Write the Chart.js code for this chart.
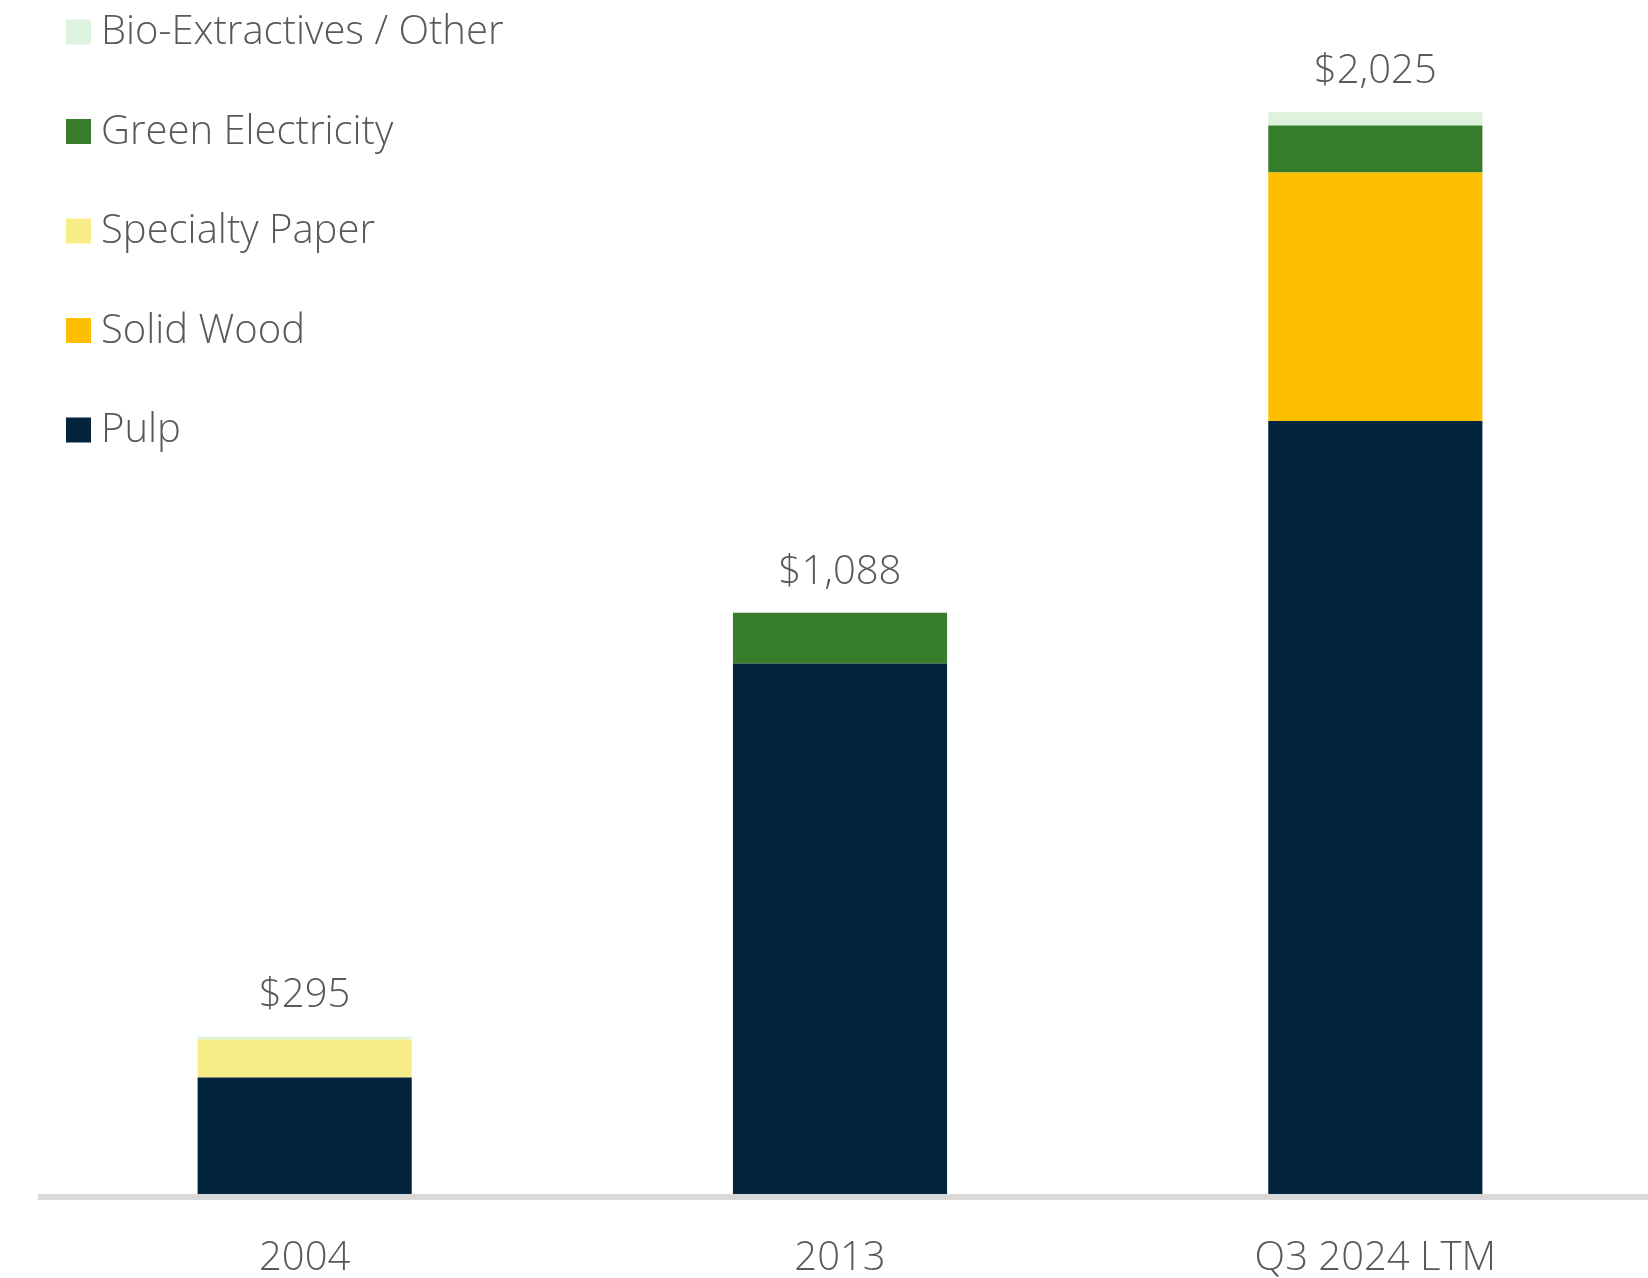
<!DOCTYPE html>
<html>
<head>
<meta charset="utf-8">
<script src="https://cdn.jsdelivr.net/npm/chart.js@4.4.1/dist/chart.umd.min.js"></script>
<style>
  html, body { margin: 0; padding: 0; background: #ffffff; }
  #wrap { width: 1648px; height: 1278px; }
</style>
</head>
<body>
<div id="wrap"><canvas id="chart1" width="1648" height="1278"></canvas></div>
<script>
// categories and series (stacked, bottom to top)
var categories = ["2004", "2013", "Q3 2024 LTM"];
var seriesNames = ["Pulp", "Solid Wood", "Specialty Paper", "Green Electricity", "Bio-Extractives / Other"];
var pulp = [218, 993, 1447];
var solidWood = [0, 0, 465];
var specialtyPaper = [71, 0, 0];
var greenElectricity = [0, 95, 88];
var bioOther = [6, 0, 25];
var totalLabels = ["$295", "$1,088", "$2,025"];

var colors = ["#02243c", "#fdbf00", "#f7ed86", "#367c2b", "#ddf3de"];
var seriesData = [pulp, solidWood, specialtyPaper, greenElectricity, bioOther];

var FONT = "'Open Sans', 'Noto Sans', sans-serif";
var TEXT = "#595959";

var datasets = [];
for (var i = 0; i < seriesNames.length; i++) {
    datasets.push({
        label: seriesNames[i],
        data: seriesData[i],
        backgroundColor: colors[i],
        borderWidth: 0,
        barPercentage: 0.4,
        categoryPercentage: 1.0
    });
}

// baseline, totals above bars, legend on the left
var extras = {
    id: "extras",
    beforeDatasetsDraw: function (chart) {
        var ctx = chart.ctx;
        var area = chart.chartArea;
        ctx.save();
        ctx.fillStyle = "#d9d9d9";
        ctx.fillRect(38, area.bottom, chart.width - 38, 6);
        ctx.restore();
    },
    afterDatasetsDraw: function (chart) {
        var ctx = chart.ctx;
        var xs = chart.scales.x;
        var ys = chart.scales.y;
        ctx.save();
        ctx.font = "300 40px " + FONT;
        ctx.fillStyle = TEXT;
        ctx.textAlign = "center";
        ctx.textBaseline = "alphabetic";
        for (var c = 0; c < categories.length; c++) {
            var sum = 0;
            for (var s = 0; s < seriesData.length; s++) sum += seriesData[s][c];
            ctx.fillText(totalLabels[c], xs.getPixelForValue(c), ys.getPixelForValue(sum) - 29);
        }

        // legend, top item = last dataset
        var items = chart.data.datasets.slice().reverse();
        ctx.textAlign = "left";
        ctx.textBaseline = "middle";
        for (var k = 0; k < items.length; k++) {
            var cy = 32 + k * 99.5;
            ctx.fillStyle = items[k].backgroundColor;
            ctx.fillRect(66, cy - 12.5, 25, 25);
            ctx.fillStyle = TEXT;
            ctx.fillText(items[k].label, 101, cy + 1);
        }
        ctx.restore();
    }
};

new Chart(document.getElementById("chart1"), {
    type: "bar",
    data: { labels: categories, datasets: datasets },
    options: {
        responsive: false,
        animation: false,
        layout: { padding: { top: 72, left: 37, right: 5, bottom: 0 } },
        plugins: {
            legend: { display: false },
            tooltip: { enabled: false }
        },
        scales: {
            x: {
                stacked: true,
                grid: { display: false, drawTicks: false },
                border: { display: false },
                ticks: {
                    color: TEXT,
                    padding: 41,
                    font: { family: FONT, size: 40, weight: 300 }
                },
                afterFit: function (scale) { scale.height = 84; }
            },
            y: {
                stacked: true,
                display: false,
                min: 0,
                max: 2100
            }
        }
    },
    plugins: [extras]
});
</script>
</body>
</html>
